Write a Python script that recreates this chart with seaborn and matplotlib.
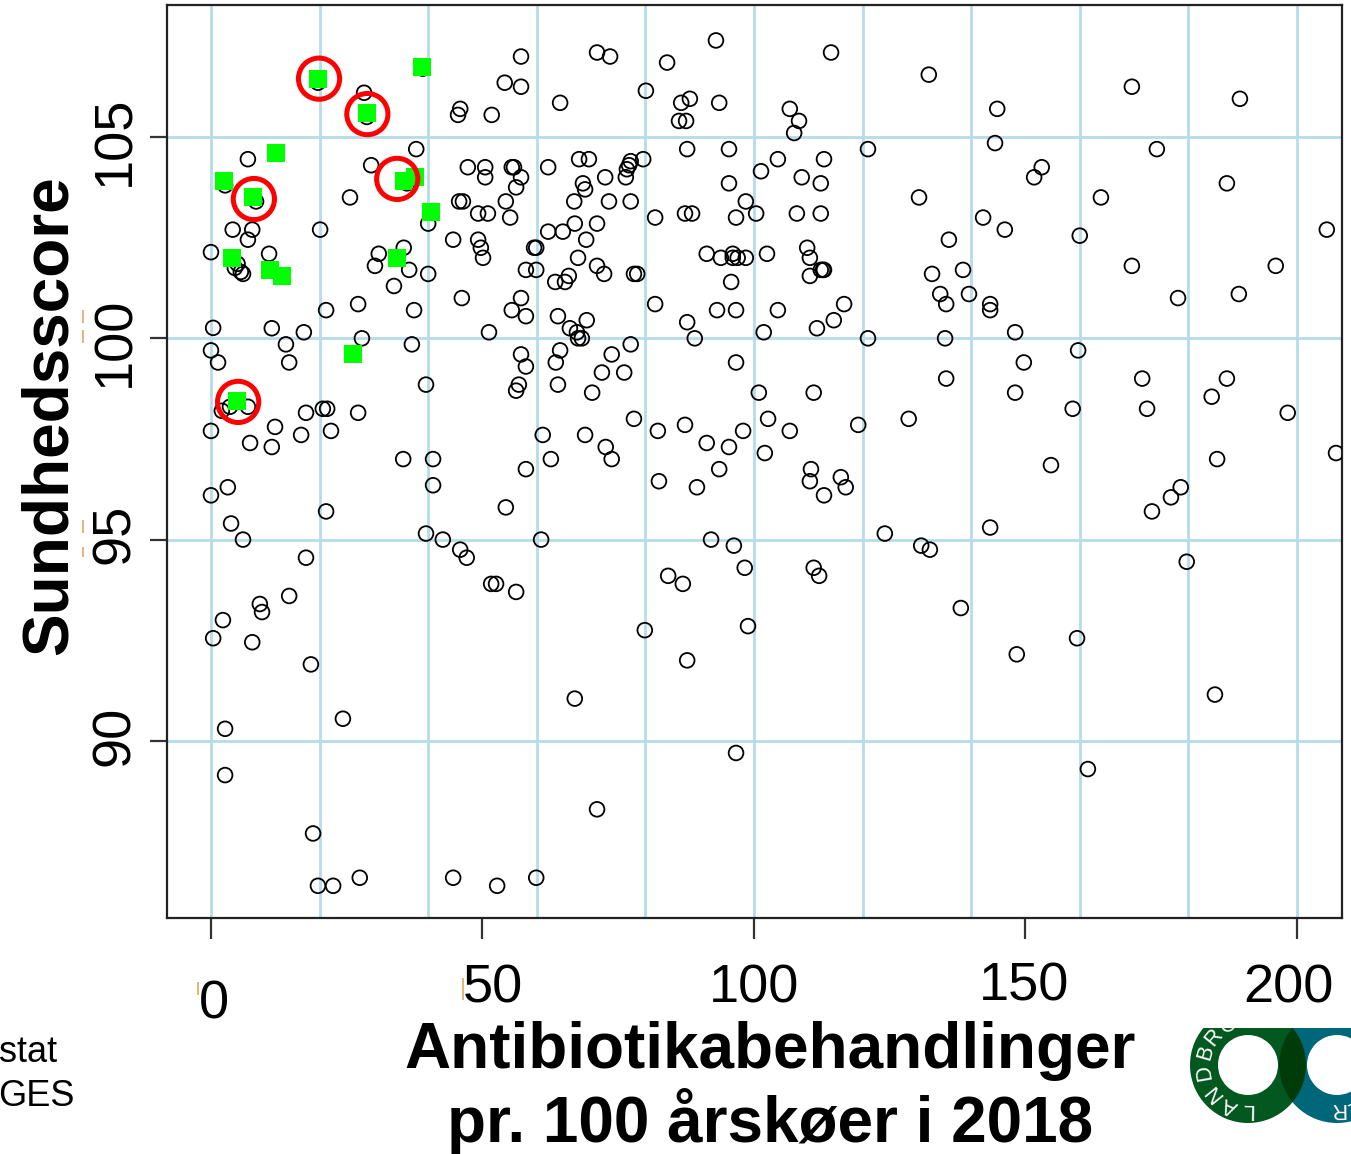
import numpy as np
import pandas as pd
import matplotlib
matplotlib.use('Agg')
import matplotlib.pyplot as plt
from matplotlib.patches import Circle, Wedge, Rectangle
from matplotlib.transforms import Affine2D
import seaborn as sns

# herds: antibiotic treatments and health score
behandlinger = [
    0, 0.4, 0, 1.3, 0, 0, 3.1, 3.7, 5.9, 2.2, 0.4, 7.6, 9, 9.4, 14.4, 17.5, 18.4, 2.6, 2.6, 24.3,
    18.8, 19.7, 22.5, 27.4, 44.6, 52.7, 59.9, 71.1, 67, 96.7, 161.5, 184.9, 159.5, 148.4, 138.1, 87.7, 79.9, 98.9, 86.9, 84.2,
    98.3, 96.3, 92.1, 60.8, 56.2, 51.6, 52.5, 47.1, 45.9, 42.7, 39.6, 21.2, 54.3, 58, 62.6, 40.9, 40.9, 35.4, 73.8, 72.7,
    68.9, 61.1, 77.9, 82.5, 82.3, 87.3, 89.5, 91.3, 93.6, 95.4, 98, 102, 102.6, 100.9, 106.6, 110.5, 110.3, 112.9, 116, 116.9,
    119.2, 111, 124.1, 130.8, 132.4, 143.5, 111, 112, 128.5, 135.4, 148.1, 158.7, 154.7, 172.4, 171.5, 184.3, 187.1, 185.3, 198.3, 207.2,
    173.3, 176.8, 178.6, 179.7, 159.7, 149.7, 148.1, 135.2, 121, 101.8, 96.7, 89.1, 87.7, 77.3, 73.8, 76.1, 72, 70.2, 64.3, 63.5,
    63.9, 57.1, 58, 56.7, 56.2, 51.2, 37, 39.6, 27.8, 27.1, 21.2, 27.1, 17.1, 13.8, 14.4, 11.2, 11.2, 7.2, 11.8, 16.6,
    17.5, 20.6, 21.4, 22.1, 3.5, 6.8, 2, 28.2, 19.7, 28.7, 39, 2.6, 8.3, 36.1, 40, 6.8, 29.5, 37.8, 25.6, 20.1,
    4, 7.6, 6.8, 4.9, 4.4, 5.9, 5.5, 10.7, 30.9, 30.2, 35.5, 33.7, 36.5, 37.4, 40, 44.6, 46.2, 45.9, 45.5, 54.1,
    57.1, 57.1, 51.7, 64.3, 71.1, 73.5, 80.1, 84, 93, 93.6, 114.2, 132.2, 86.6, 88.2, 86.2, 87.5, 87.7, 95.4, 106.6, 108.3,
    107.4, 47.3, 50.5, 50.5, 55.4, 55.8, 57.1, 56.2, 54.3, 62.1, 67.8, 69.6, 68.5, 68.9, 66.9, 72.6, 73.3, 76.4, 76.6, 77.3,
    77, 79.6, 77.3, 81.8, 87.3, 88.6, 95.4, 98.5, 96.7, 100.4, 101.3, 104.4, 108.8, 112.9, 112.3, 107.9, 112.3, 121, 130.4, 144.4,
    144.8, 151.6, 153, 163.9, 169.6, 189.5, 174.2, 187.1, 142.2, 146.2, 135.9, 160, 205.5, 169.6, 196.1, 178.1, 189.3, 132.8, 138.5, 134.3,
    135.4, 139.6, 143.5, 143.5, 116.6, 114.7, 111.6, 112.7, 112.9, 112.3, 110.3, 110.3, 109.8, 104.4, 102.4, 96.7, 93.2, 95.8, 91.3, 93.9,
    96.1, 96.1, 97, 98.5, 81.8, 77.9, 78.5, 72.4, 71.1, 71.1, 67, 69.1, 67.6, 62.1, 64.8, 59.5, 59.9, 58, 59.9, 63.4,
    65.2, 65.9, 55.4, 57.1, 58, 63.9, 66.1, 67.6, 68.3, 69.2, 67.4, 49.2, 49.7, 50.1, 49.2, 51, 55.1, 45.7, 46.4,
]
sundhedsscore = [
    102.14, 100.26, 99.7, 99.4, 97.7, 96.1, 96.3, 95.4, 95, 93, 92.55, 92.45, 93.4, 93.2, 93.6, 94.55, 91.9, 90.3, 89.15, 90.55,
    87.7, 86.4, 86.4, 86.6, 86.6, 86.4, 86.6, 88.3, 91.05, 89.7, 89.3, 91.15, 92.55, 92.15, 93.3, 92, 92.75, 92.85, 93.9, 94.1,
    94.3, 94.85, 95, 95, 93.7, 93.9, 93.9, 94.55, 94.75, 95, 95.15, 95.7, 95.8, 96.75, 97, 96.35, 97, 97, 97, 97.3,
    97.6, 97.6, 98, 96.45, 97.7, 97.85, 96.3, 97.4, 96.75, 97.3, 97.7, 97.15, 98, 98.65, 97.7, 96.75, 96.45, 96.1, 96.55, 96.3,
    97.85, 98.65, 95.15, 94.85, 94.75, 95.3, 94.3, 94.1, 98, 99, 98.65, 98.25, 96.85, 98.25, 99, 98.55, 99, 97, 98.15, 97.15,
    95.7, 96.05, 96.3, 94.45, 99.7, 99.4, 100.15, 100, 100, 100.15, 99.4, 100, 100.4, 99.85, 99.6, 99.15, 99.15, 98.65, 99.7, 99.4,
    98.85, 99.6, 99.3, 98.85, 98.7, 100.15, 99.85, 98.85, 100, 98.15, 100.7, 100.85, 100.15, 99.85, 99.4, 100.25, 97.3, 97.4, 97.8, 97.6,
    98.15, 98.25, 98.25, 97.7, 98.3, 98.3, 98.2, 106.1, 106.35, 105.5, 106.7, 103.8, 103.4, 103.85, 102.85, 104.45, 104.3, 104.7, 103.5, 102.7,
    102.7, 102.7, 102.45, 101.85, 101.75, 101.6, 101.65, 102.1, 102.1, 101.8, 102.25, 101.3, 101.7, 100.7, 101.6, 102.45, 101, 105.7, 105.55, 106.35,
    106.25, 107, 105.55, 105.85, 107.1, 107, 106.15, 106.85, 107.4, 105.85, 107.1, 106.55, 105.85, 105.95, 105.4, 105.4, 104.7, 104.7, 105.7, 105.4,
    105.1, 104.25, 104.25, 104, 104.25, 104.25, 104, 103.75, 103.4, 104.25, 104.45, 104.45, 103.85, 103.7, 103.4, 104, 103.4, 104, 104.2, 104.4,
    104.3, 104.45, 103.4, 103, 103.1, 103.1, 103.85, 103.4, 103, 103.1, 104.15, 104.45, 104, 104.45, 103.85, 103.1, 103.1, 104.7, 103.5, 104.85,
    105.7, 104, 104.25, 103.5, 106.25, 105.95, 104.7, 103.85, 103, 102.7, 102.45, 102.55, 102.7, 101.8, 101.8, 101, 101.1, 101.6, 101.7, 101.1,
    100.85, 101.1, 100.85, 100.7, 100.85, 100.45, 100.25, 101.7, 101.7, 101.7, 101.55, 102, 102.25, 100.7, 102.1, 100.7, 100.7, 101.4, 102.1, 102,
    102.1, 102, 102, 102, 100.85, 101.6, 101.6, 101.6, 101.8, 102.85, 102.85, 102.45, 102, 102.65, 102.65, 102.25, 102.25, 101.7, 101.7, 101.4,
    101.4, 101.55, 100.7, 101, 100.55, 100.55, 100.25, 100, 100, 100.45, 100.15, 102.45, 102.25, 102, 103.1, 103.1, 103, 103.4, 103.4,
]

# green herds
groen_x = [19.8, 28.7, 38.9, 12, 2.4, 7.7, 35.5, 37.6, 40.5, 3.9, 10.9, 13.1, 34.3, 26.2, 4.8]
groen_y = [106.45, 105.6, 106.75, 104.6, 103.9, 103.5, 103.9, 104, 103.15, 102, 101.7, 101.55, 102, 99.6, 98.45]

# red rings
roed_x = [19.9, 28.8, 34.3, 7.9, 5]
roed_y = [106.45, 105.57, 103.96, 103.46, 98.42]

x_ticks = [0, 50, 100, 150, 200]
y_ticks = [90, 95, 100, 105]
x_grid = [0, 20, 40, 60, 80, 100, 120, 140, 160, 180, 200]
x_label = 'Antibiotikabehandlinger\npr. 100 årskøer i 2018'
y_label = 'Sundhedsscore'

sns.set_style('white')
plt.rcParams['font.family'] = ['Liberation Sans', 'DejaVu Sans']

W, H = 1351, 1154
fig = plt.figure(figsize=(W / 100, H / 100), dpi=100)
ax = fig.add_axes([167 / W, 1 - 918 / H, 1175 / W, 913 / H])

df = pd.DataFrame({'x': behandlinger, 'y': sundhedsscore})
df_groen = pd.DataFrame({'x': groen_x, 'y': groen_y})
df_roed = pd.DataFrame({'x': roed_x, 'y': roed_y})

for g in x_grid:
    ax.axvline(g, color='#b5dcea', lw=2, zorder=1)
for g in y_ticks:
    ax.axhline(g, color='#b5dcea', lw=2, zorder=1)

sns.scatterplot(data=df, x='x', y='y', ax=ax, marker='o', s=112, facecolor='none',
                edgecolor='black', linewidth=1.3, zorder=3)
sns.scatterplot(data=df_groen, x='x', y='y', ax=ax, marker='s', s=170, color='#00ff00',
                linewidth=0, zorder=4)
sns.scatterplot(data=df_roed, x='x', y='y', ax=ax, marker='o', s=880, facecolor='none',
                edgecolor='#ff0000', linewidth=3.6, zorder=5)

ax.set_xlim(-8.1, 208.3)
ax.set_ylim(85.6, 108.28)
ax.set_xlabel('')
ax.set_ylabel('')
for s in ax.spines.values():
    s.set_visible(True)
    s.set_color('#222222')
    s.set_linewidth(1.6)

ax.set_xticks(x_ticks)
ax.set_yticks(y_ticks)
ax.tick_params(axis='x', length=15, width=1.6, color='#333333', bottom=True, labelsize=39,
               labelcolor='black', pad=8)
ax.tick_params(axis='y', length=12, width=1.6, color='#333333', left=True, labelsize=39,
               labelcolor='black', pad=8)
ax.set_yticklabels(y_ticks, rotation=90, va='center')
ax.set_xticklabels(x_ticks)

# tick labels sit a bit unevenly in the original
x_shift = [(3, -30), (10, -14), (0, -14), (-1, -12), (-8, -14)]
y_shift = [(1, 5), (1, 6), (1, -3), (1, -4)]
for lab, (dx, dy) in zip(ax.get_xticklabels(), x_shift):
    lab.set_transform(lab.get_transform() + Affine2D().translate(dx, dy))
for lab, (dx, dy) in zip(ax.get_yticklabels(), y_shift):
    lab.set_transform(lab.get_transform() + Affine2D().translate(dx, dy))

# overlay in pixels for the titles and the logo
ov = fig.add_axes([0, 0, 1, 1], facecolor='none')
ov.set_xlim(0, W)
ov.set_ylim(H, 0)
ov.axis('off')

ov.text(50, 415, y_label, rotation=90, ha='center', va='center', fontsize=46, fontweight='bold', color='black')
ov.text(770, 1088, x_label, ha='center', va='center', fontsize=46, fontweight='bold', color='black',
        linespacing=1.12)
ov.text(-1, 1052, 'stat', ha='left', va='center', fontsize=26, color='black')
ov.text(-2, 1096, 'GES', ha='left', va='center', fontsize=26, color='black')

# small orange specks next to the tick labels
for x0, y0, x1, y1 in [(83, 310, 83, 323), (83, 330, 83, 343), (83, 520, 83, 533), (83, 547, 83, 557),
                       (198, 982, 198, 995), (463, 978, 463, 1000)]:
    ov.plot([x0, x1], [y0, y1], color='#e0a860', lw=1.2, solid_capstyle='butt')

# logo
clip = Rectangle((1150, 1028), 201, 126, transform=ov.transData)
c1, c2, cy = 1248, 1337, 1065
ring1 = Wedge((c1, cy), 58, 0, 360, width=28, color='#03581f', lw=0)
ring2 = Wedge((c2, cy), 58, 0, 360, width=28, color='#00667a', lw=0)
for r in (ring1, ring2):
    ov.add_patch(r)
    r.set_clip_path(clip)
lens = Circle((c1, cy), 58, color='#003b0a', lw=0)
ov.add_patch(lens)
lens.set_clip_path(Circle((c2, cy), 58, transform=ov.transData))

for cx, letters in [(c1, [('L', 269), ('A', 246), ('N', 219), ('D', 190), ('B', 164), ('R', 141), ('O', 116)]),
                    (c2, [('R', 271), ('E', 290)])]:
    for ch, ang in letters:
        px = cx + 44 * np.cos(np.radians(ang))
        py = cy - 44 * np.sin(np.radians(ang))
        t = ov.text(px, py, ch, rotation=ang - 90, rotation_mode='anchor', ha='center', va='center',
                    fontsize=15.5, color='white')
        t.set_clip_path(clip)

fig.savefig('out.png', dpi=100)
